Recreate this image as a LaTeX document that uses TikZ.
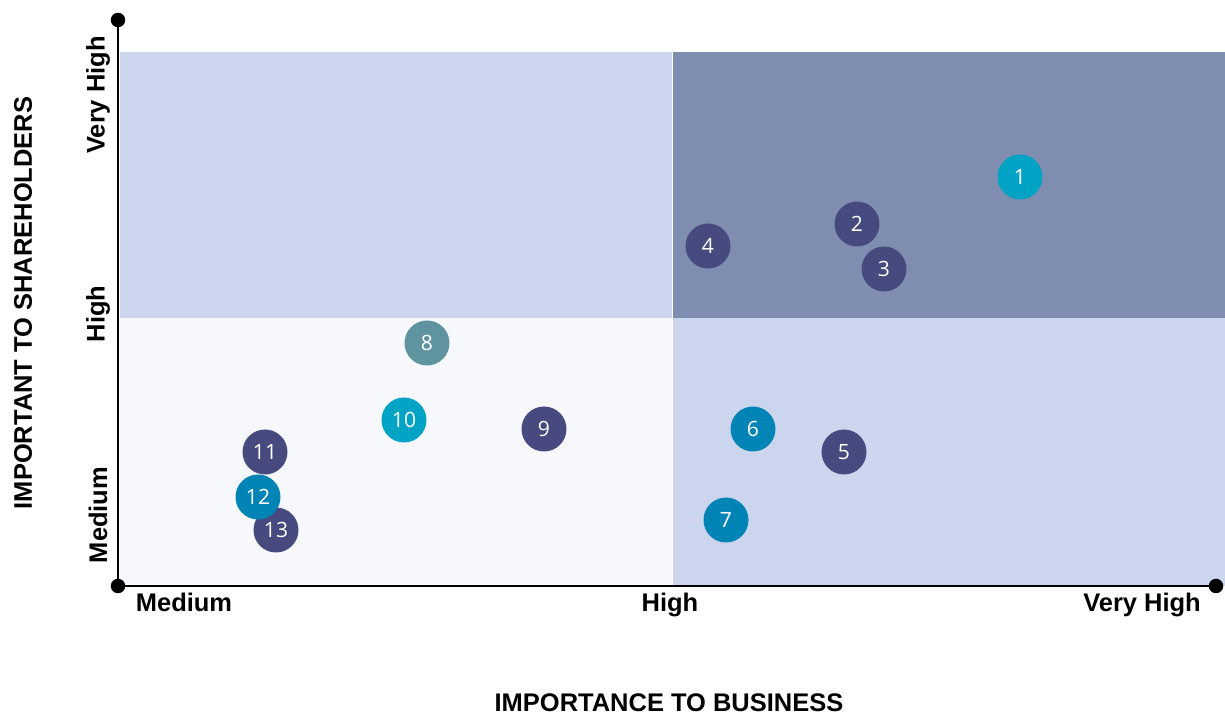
\documentclass[tikz,border=0pt]{standalone}
\usepackage{fontspec}
\setmainfont{Liberation Sans}
\newfontfamily\numfont{Open Sans}
\usetikzlibrary{calc}
\definecolor{lightq}{HTML}{CBD6EE}
\definecolor{darkq}{HTML}{7F8EB0}
\definecolor{paleq}{HTML}{F6F8FC}
\definecolor{navy}{HTML}{464A7F}
\definecolor{teal}{HTML}{00A3C4}
\definecolor{ocean}{HTML}{0084B6}
\definecolor{slate}{HTML}{5F93A0}
\tikzstyle{dot} = [circle,fill=black,inner sep=0pt,minimum size=0.29cm]
\tikzstyle{axis} = [line width=1.7pt]
\tikzstyle{issue} = [circle,inner sep=0pt,minimum size=0.9cm,text=white,font=\numfont\fontsize{12}{13}\selectfont]
\tikzstyle{tick} = [font=\bfseries\fontsize{14.5}{16}\selectfont]
\tikzstyle{title} = [font=\bfseries\fontsize{14.5}{16}\selectfont]

\begin{document}
\begin{tikzpicture}[x=0.02cm,y=-0.02cm]
\useasboundingbox (0,0) rectangle (1225,715);

% quadrants
    \fill[lightq] (120,52) rectangle (672,318);
    \fill[darkq] (673,52) rectangle (1225,318);
    \fill[paleq] (120,318) rectangle (672,586);
    \fill[lightq] (673,318) rectangle (1225,586);

% axes
    \node[dot] (ytop) at (118,20) {};
    \node[dot] (origin) at (118,586) {};
    \node[dot] (xend) at (1216,586) {};
    \draw[axis] (ytop.center) -- (origin.center) -- (xend.center);

% tick labels
    \node[tick] (xmed) at (184,602) {Medium};
    \node[tick] (xhigh) at (670,605) {High};
    \node[tick] (xvhigh) at (1142,605) {Very High};
    \node[tick,rotate=90] (ymed) at (98,515) {Medium};
    \node[tick,rotate=90] (yhigh) at (98,314) {High};
    \node[tick,rotate=90] (yvhigh) at (98,95) {Very High};

% titles
    \node[title] (xtitle) at (669,703) {IMPORTANCE TO BUSINESS};
    \node[title,rotate=90] (ytitle) at (23,303) {IMPORTANT TO SHAREHOLDERS};

% issues
    \foreach \n/\x/\y/\c in {1/1020/177/teal, 2/857/224/navy, 3/884/269/navy,
        4/708/246/navy, 5/844/452/navy, 6/753/429/ocean, 7/726/520/ocean,
        8/427/343/slate, 9/544/429/navy, 10/404/420/teal, 11/265/452/navy,
        13/276/530/navy, 12/258/497/ocean} {
        \node[issue,fill=\c] (p\n) at (\x,\y) {\n};
    }

\end{tikzpicture}
\end{document}
